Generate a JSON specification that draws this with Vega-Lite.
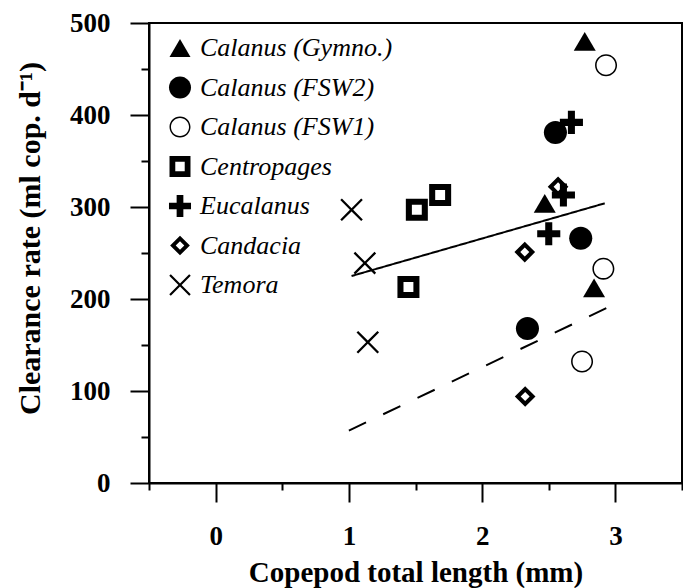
{
  "$schema": "https://vega.github.io/schema/vega-lite/v6.json",
  "width": 533,
  "height": 460,
  "autosize": "none",
  "padding": {"left": 149, "top": 23, "right": 1, "bottom": 105},
  "background": "white",
  "config": {
    "view": {"stroke": "black", "strokeWidth": 2},
    "font": "Liberation Serif"
  },
  "datasets": {
    "lines": [
      {"fit": "solid", "x": 1.02, "y": 225},
      {"fit": "solid", "x": 2.92, "y": 304},
      {"fit": "dashed", "x": 1.0, "y": 57},
      {"fit": "dashed", "x": 2.99, "y": 194}
    ],
    "points": [
      {"species": "Calanus (Gymno.)", "x": 2.77, "y": 480},
      {"species": "Calanus (Gymno.)", "x": 2.47, "y": 304},
      {"species": "Calanus (Gymno.)", "x": 2.84, "y": 212},
      {"species": "Calanus (FSW2)", "x": 2.55, "y": 381},
      {"species": "Calanus (FSW2)", "x": 2.74, "y": 266},
      {"species": "Calanus (FSW2)", "x": 2.34, "y": 168},
      {"species": "Calanus (FSW1)", "x": 2.93, "y": 454},
      {"species": "Calanus (FSW1)", "x": 2.91, "y": 233},
      {"species": "Calanus (FSW1)", "x": 2.75, "y": 132},
      {"species": "Centropages", "x": 1.51, "y": 297},
      {"species": "Centropages", "x": 1.685, "y": 313},
      {"species": "Centropages", "x": 1.447, "y": 213},
      {"species": "Candacia", "x": 2.57, "y": 322},
      {"species": "Candacia", "x": 2.32, "y": 251},
      {"species": "Candacia", "x": 2.323, "y": 94},
      {"species": "Eucalanus", "x": 2.67, "y": 392},
      {"species": "Eucalanus", "x": 2.61, "y": 313},
      {"species": "Eucalanus", "x": 2.5, "y": 271},
      {"species": "Temora", "x": 1.02, "y": 297},
      {"species": "Temora", "x": 1.12, "y": 239},
      {"species": "Temora", "x": 1.142, "y": 153}
    ]
  },
  "encoding": {
    "x": {
      "field": "x",
      "type": "quantitative",
      "scale": {"domain": [-0.5, 3.5], "nice": false, "zero": false},
      "axis": {
        "values": [-0.5, 0, 0.5, 1, 1.5, 2, 2.5, 3, 3.5],
        "labelExpr": "datum.value % 1 === 0 ? format(datum.value, 'd') : ''",
        "tickSize": {"condition": {"test": "datum.value % 1 === 0", "value": 19}, "value": 7},
        "tickWidth": 2,
        "tickColor": "black",
        "domainColor": "black",
        "domainWidth": 2,
        "grid": false,
        "labelFont": "Liberation Serif",
        "labelFontWeight": "bold",
        "labelFontSize": 27,
        "labelColor": "black",
        "labelPadding": 21,
        "labelFlush": false,
        "labelOverlap": false,
        "title": "Copepod total length (mm)",
        "titleFont": "Liberation Serif",
        "titleFontWeight": "bold",
        "titleFontSize": 29,
        "titleColor": "black",
        "titlePadding": 9
      }
    },
    "y": {
      "field": "y",
      "type": "quantitative",
      "scale": {"domain": [0, 500], "nice": false},
      "axis": {
        "values": [0, 50, 100, 150, 200, 250, 300, 350, 400, 450, 500],
        "labelExpr": "datum.value % 100 === 0 ? datum.label : ''",
        "tickSize": {"condition": {"test": "datum.value % 100 === 0", "value": 19}, "value": 8},
        "tickWidth": 2,
        "tickColor": "black",
        "domainColor": "black",
        "domainWidth": 2,
        "grid": false,
        "labelFont": "Liberation Serif",
        "labelFontWeight": "bold",
        "labelFontSize": 27,
        "labelColor": "black",
        "labelPadding": 20,
        "labelFlush": false,
        "labelOverlap": false,
        "title": "Clearance rate (ml cop. d⁻¹)",
        "titleFont": "Liberation Serif",
        "titleFontWeight": "bold",
        "titleFontSize": 30,
        "titleColor": "black",
        "titlePadding": 24,
        "titleY": 215
      }
    }
  },
  "layer": [
    {
      "data": {"name": "lines"},
      "mark": {"type": "line", "color": "black", "strokeWidth": 2},
      "encoding": {
        "detail": {"field": "fit", "type": "nominal"},
        "strokeDash": {
          "field": "fit",
          "type": "nominal",
          "scale": {"domain": ["solid", "dashed"], "range": [[1, 0], [19, 19]]},
          "legend": null
        }
      }
    },
    {
      "data": {"name": "points"},
      "mark": {"type": "point", "filled": true, "fill": "black", "opacity": 1, "strokeWidth": 0, "size": 484},
      "encoding": {
        "shape": {
          "field": "species",
          "type": "nominal",
          "scale": {
            "domain": ["Calanus (Gymno.)", "Calanus (FSW2)", "Calanus (FSW1)", "Centropages", "Eucalanus", "Candacia", "Temora"],
            "range": [
              "M0,-0.85L1,0.85L-1,0.85Z",
              "M-1.05,0A1.05,1.05,0,1,1,1.05,0A1.05,1.05,0,1,1,-1.05,0Z",
              "M-1,0A1,1,0,1,1,1,0A1,1,0,1,1,-1,0ZM-0.86,0A0.86,0.86,0,1,0,0.86,0A0.86,0.86,0,1,0,-0.86,0Z",
              "M-1,-1L1,-1L1,1L-1,1ZM-0.45,-0.45L-0.45,0.45L0.45,0.45L0.45,-0.45Z",
              "M-0.32,-1.05L0.32,-1.05L0.32,-0.32L1.05,-0.32L1.05,0.32L0.32,0.32L0.32,1.05L-0.32,1.05L-0.32,0.32L-1.05,0.32L-1.05,-0.32L-0.32,-0.32Z",
              "M0,-0.94L0.94,0L0,0.94L-0.94,0ZM0,-0.41L-0.41,0L0,0.41L0.41,0Z",
              "M0,-0.148L0.876,-1.024L1.024,-0.876L0.148,0L1.024,0.876L0.876,1.024L0,0.148L-0.876,1.024L-1.024,0.876L-0.148,0L-1.024,-0.876L-0.876,-1.024Z"
            ]
          },
          "legend": {
            "title": null,
            "orient": "none",
            "legendX": 18,
            "legendY": 12,
            "symbolSize": 440,
            "symbolFillColor": "black",
            "symbolStrokeWidth": 0,
            "symbolOpacity": 1,
            "labelFont": "Liberation Serif",
            "labelFontStyle": "italic",
            "labelFontSize": 26,
            "labelColor": "black",
            "labelOffset": 7,
            "labelLimit": 400,
            "rowPadding": 13.5,
            "padding": 0
          }
        }
      }
    }
  ]
}
